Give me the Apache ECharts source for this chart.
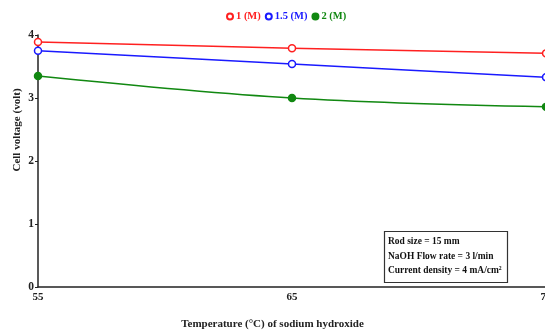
<!DOCTYPE html>
<html><head><meta charset="utf-8">
<script src="https://cdn.jsdelivr.net/npm/echarts@6/dist/echarts.min.js"></script>
<style>html,body{margin:0;padding:0;background:#fff}#c{width:545px;height:333px}</style>
</head><body><div id="c"></div>
<script>
var temperatures = [55, 65, 75];
var names = ['1 (M)', '1.5 (M)', '2 (M)'];
var v1 = [3.89, 3.79, 3.71];
var v15 = [3.75, 3.54, 3.33];
var v2 = [3.35, 3.00, 2.86];
var yTicks = [0, 1, 2, 3, 4];
var infoLines = ['Rod size = 15 mm', 'NaOH Flow rate = 3 l/min', 'Current density = 4 mA/cm\u00b2'];

var F = 'Liberation Serif';
function pts(v){ return temperatures.map(function(t,i){return [t, v[i]];}); }
var colors = ['#ff2020', '#1a1aff', '#118811'];
var chart = echarts.init(document.getElementById('c'));
function ser(name, v, c, filled){
  return {name:name, type:'line', data:pts(v), smooth:0.35, symbol:'circle', symbolSize:7,
    lineStyle:{color:c, width:1.5},
    itemStyle:{color: filled? c : '#fff', borderColor:c, borderWidth:1.5},
    emphasis:{disabled:true}};
}
chart.setOption({
  animation:false,
  grid:{left:38, right:-1, top:35, bottom:46, containLabel:false, outerBoundsMode:'none'},
  legend:{top:11, left:226, padding:0, itemGap:4, itemWidth:6, itemHeight:6, icon:'circle',
    data:names.map(function(n,i){return {name:n, textStyle:{color:colors[i]}};}),
    textStyle:{fontFamily:F, fontWeight:'bold', fontSize:10.5, padding:[0,0,0,-2]}},
  xAxis:{type:'value', min:55, max:75, interval:5,
    axisLine:{lineStyle:{color:'#222', width:1.5}},
    axisTick:{show:false},
    splitLine:{show:false},
    axisLabel:{fontFamily:F, fontWeight:'bold', fontSize:11, color:'#222', margin:5,
      formatter:function(v){return temperatures.indexOf(v)>=0 ? v : '';}},
  },
  yAxis:{type:'value', min:0, max:4, interval:1,
    axisLine:{show:true, lineStyle:{color:'#222', width:1.5}},
    axisTick:{show:true, length:3, lineStyle:{color:'#222'}},
    splitLine:{show:false},
    axisLabel:{fontFamily:F, fontWeight:'bold', fontSize:11.5, color:'#222', margin:4,
      formatter:function(v){return yTicks.indexOf(v)>=0 ? v : '';}}},
  series:[ser(names[0], v1, colors[0], false), ser(names[1], v15, colors[1], false), ser(names[2], v2, colors[2], true)],
  graphic:[
    {type:'text', left:'center', top:319, style:{text:'Temperature (\u00b0C) of sodium hydroxide', font:'bold 11px "Liberation Serif"', fill:'#222'}},
    {type:'text', x:17, y:130, rotation:Math.PI/2, style:{text:'Cell voltage (volt)', font:'bold 11px "Liberation Serif"', fill:'#222', align:'center', verticalAlign:'middle'}},
    {type:'rect', shape:{x:384.5, y:231.5, width:123, height:51}, style:{fill:'#fff', stroke:'#333', lineWidth:1.2}},
    {type:'text', x:388, y:234, scaleX:0.86, style:{text:infoLines.join('\n'), font:'bold 11px "Liberation Serif"', lineHeight:14.5, fill:'#111'}}
  ]
});
</script></body></html>
